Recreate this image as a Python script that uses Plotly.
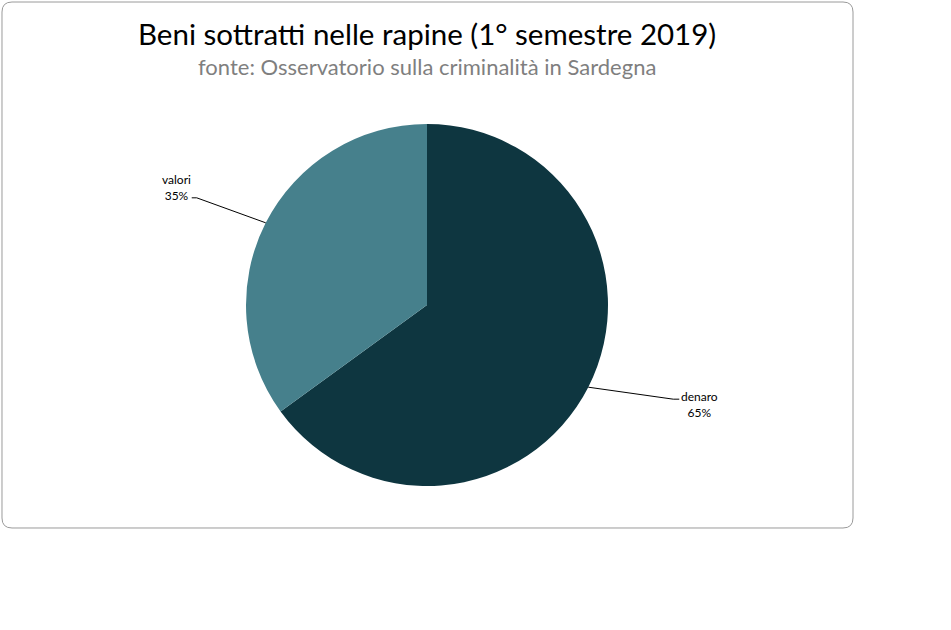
import math
import plotly.graph_objects as go

labels = ["denaro", "valori"]
values = [65, 35]
colors = ["#0E3640", "#46808C"]

W, H = 951, 630
cx, cy, r = 427, 305, 181  # pie centre / radius in pixels


def px(x):
    return x / W


def py(y):
    return 1 - y / H


fig = go.Figure()
fig.add_trace(go.Pie(
    labels=labels,
    values=values,
    marker=dict(colors=colors),
    sort=False,
    direction="clockwise",
    rotation=0,
    textinfo="none",
    hoverinfo="label+percent",
    showlegend=False,
    domain=dict(x=[px(cx - r), px(cx + r)], y=[py(cy + r), py(cy - r)]),
))

# leader lines + labels, placed from slice mid angles
total = sum(values)
start = 0
shapes = []
annotations = []
for lab, val in zip(labels, values):
    mid = (start + val / 2) / total * 2 * math.pi
    start += val
    x0 = cx + r * math.sin(mid)
    y0 = cy - r * math.cos(mid)
    pct = "%d%%" % round(val / total * 100)
    if math.sin(mid) >= 0:
        x1, y1 = x0 + 85, y0 + 12
        x2 = x1 + 6
        anchor, tx, ty = "left", x2, y1 + 5
    else:
        x1, y1 = x0 - 69, y0 - 25
        x2 = x1 - 5
        anchor, tx, ty = "right", x2 + 1, y1 - 10
    shapes.append(dict(
        type="path", xref="paper", yref="paper",
        path="M %f,%f L %f,%f L %f,%f" % (px(x0), py(y0), px(x1), py(y1), px(x2), py(y1)),
        line=dict(color="#000000", width=1),
    ))
    annotations.append(dict(
        x=px(tx), y=py(ty), xref="paper", yref="paper",
        xanchor=anchor, yanchor="middle", align="center",
        text=lab + "<br>" + pct, showarrow=False,
        font=dict(family="Lato", size=12, color="#000000"),
    ))

# rounded border of the chart area
bx0, by0, bx1, by1, rr = 2, 2, 853, 528, 10
border = ("M %f,%f L %f,%f Q %f,%f %f,%f L %f,%f Q %f,%f %f,%f "
          "L %f,%f Q %f,%f %f,%f L %f,%f Q %f,%f %f,%f Z") % (
    px(bx0 + rr), py(by0), px(bx1 - rr), py(by0),
    px(bx1), py(by0), px(bx1), py(by0 + rr),
    px(bx1), py(by1 - rr),
    px(bx1), py(by1), px(bx1 - rr), py(by1),
    px(bx0 + rr), py(by1),
    px(bx0), py(by1), px(bx0), py(by1 - rr),
    px(bx0), py(by0 + rr),
    px(bx0), py(by0), px(bx0 + rr), py(by0),
)
shapes.append(dict(type="path", xref="paper", yref="paper", path=border,
                   line=dict(color="#9A9A9A", width=1), layer="below"))

annotations.append(dict(
    x=px(427), y=py(33), xref="paper", yref="paper",
    xanchor="center", yanchor="middle", showarrow=False,
    text="Beni sottratti nelle rapine (1° semestre 2019)",
    font=dict(family="Lato", size=29.5, color="#000000"),
))
annotations.append(dict(
    x=px(427), y=py(67), xref="paper", yref="paper",
    xanchor="center", yanchor="middle", showarrow=False,
    text="fonte: Osservatorio sulla criminalità in Sardegna",
    font=dict(family="Lato", size=22, color="#7F7F7F"),
))

fig.update_layout(
    width=W, height=H,
    margin=dict(l=0, r=0, t=0, b=0),
    paper_bgcolor="#FFFFFF",
    plot_bgcolor="#FFFFFF",
    shapes=shapes,
    annotations=annotations,
)
fig.write_html("out.html", config={"displayModeBar": False},
               post_script="document.body.style.margin='0';")
